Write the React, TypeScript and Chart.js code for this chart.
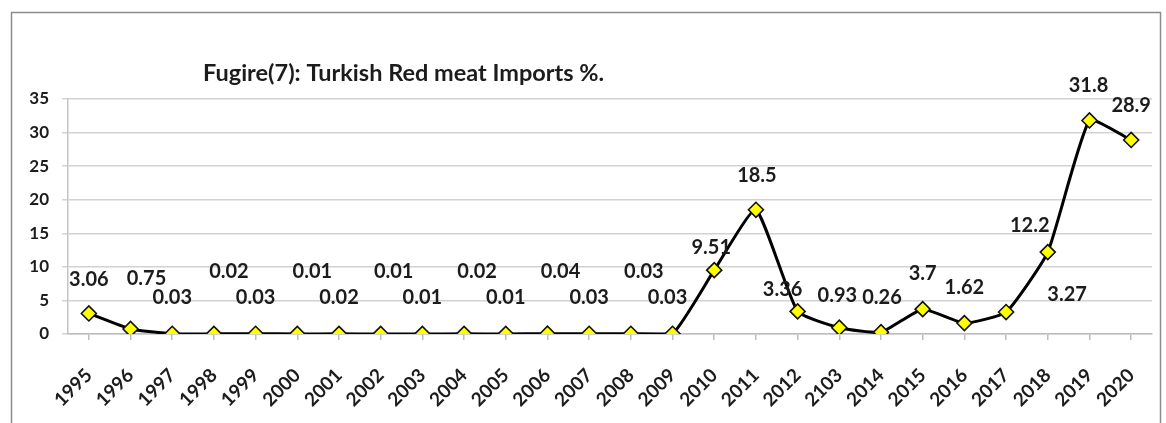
import React, { useEffect, useRef } from 'react';
import { Chart, registerables } from 'chart.js';

Chart.register(...registerables);

const years = [
  '1995', '1996', '1997', '1998', '1999', '2000', '2001', '2002', '2003',
  '2004', '2005', '2006', '2007', '2008', '2009', '2010', '2011', '2012',
  '2103', '2014', '2015', '2016', '2017', '2018', '2019', '2020',
];

const importShare = [
  3.06, 0.75, 0.03, 0.02, 0.03, 0.01, 0.02, 0.01, 0.01, 0.02, 0.01, 0.04, 0.03,
  0.03, 0.03, 9.51, 18.5, 3.36, 0.93, 0.26, 3.7, 1.62, 3.27, 12.2, 31.8, 28.9,
];

const yMin = 0;
const yMax = 35;
const yStep = 5;

const titleText = 'Fugire(7): Turkish Red meat Imports %.';

// where each value label sits relative to its marker: [dx, dy] in px
const labelOffsets: [number, number][] = [
  [0, -34], [16, -50], [0, -36], [15, -62], [0, -36], [15, -62], [0, -36],
  [13, -62], [0, -36], [13, -62], [0, -36], [13, -62], [0, -36], [13, -62],
  [-5, -36], [-3, -23], [1, -34], [-15, -22], [-2, -32], [1, -35], [0, -36],
  [0, -36], [61, -17], [-18, -27], [-1, -35], [0, -34],
];

const FONT = 'Lato, "Open Sans", sans-serif';
const TEXT = '#1c1c1c';

const framePlugin = {
  id: 'frame',
  beforeDraw(chart: Chart) {
    const { ctx, height } = chart;
    ctx.save();
    ctx.fillStyle = '#ffffff';
    ctx.fillRect(0, 0, chart.width, height);
    ctx.strokeStyle = '#8c8c8c';
    ctx.lineWidth = 1.5;
    ctx.strokeRect(11.5, 12.5, 1149, height + 20);
    ctx.restore();
  },
};

const titlePlugin = {
  id: 'figTitle',
  afterDraw(chart: Chart) {
    const { ctx } = chart;
    ctx.save();
    ctx.font = `bold 23.5px ${FONT}`;
    ctx.fillStyle = TEXT;
    ctx.textAlign = 'left';
    ctx.textBaseline = 'middle';
    ctx.fillText(titleText, 203, 73);
    ctx.restore();
  },
};

const valueLabelPlugin = {
  id: 'valueLabels',
  afterDatasetsDraw(chart: Chart) {
    const { ctx } = chart;
    const meta = chart.getDatasetMeta(0);
    ctx.save();
    ctx.font = `bold 20px ${FONT}`;
    ctx.fillStyle = TEXT;
    ctx.textAlign = 'center';
    ctx.textBaseline = 'middle';
    meta.data.forEach((pt: any, i: number) => {
      const [dx, dy] = labelOffsets[i] || [0, -30];
      ctx.fillText(String(importShare[i]), pt.x + dx, pt.y + dy);
    });
    ctx.restore();
  },
};

export default function App() {
  const canvasRef = useRef<HTMLCanvasElement | null>(null);

  useEffect(() => {
    if (!canvasRef.current) return;
    const chart = new Chart(canvasRef.current, {
      type: 'line',
      data: {
        labels: years,
        datasets: [
          {
            label: 'Turkish Red meat Imports %',
            data: importShare,
            borderColor: '#000000',
            borderWidth: 3,
            tension: 0.15,
            pointStyle: 'rectRot',
            pointRadius: 7.5,
            pointHoverRadius: 7.5,
            pointBackgroundColor: '#ffff00',
            pointBorderColor: '#111111',
            pointBorderWidth: 1.6,
          },
        ],
      },
      options: {
        animation: false,
        responsive: true,
        maintainAspectRatio: false,
        layout: { padding: { left: 0, right: 14, top: 99, bottom: 0 } },
        plugins: {
          legend: { display: false },
          title: { display: false },
          tooltip: { enabled: false },
        },
        scales: {
          x: {
            type: 'category',
            offset: true,
            grid: {
              drawOnChartArea: false,
              drawTicks: true,
              tickLength: 6,
              color: '#bdbdbd',
              lineWidth: 1.5,
            },
            border: { display: true, color: '#bdbdbd', width: 1.5 },
            ticks: {
              autoSkip: false,
              minRotation: 45,
              maxRotation: 45,
              padding: 24,
              color: TEXT,
              font: { family: FONT, size: 19, weight: 'bold' },
            },
            afterFit(scale: any) {
              scale.height = 89;
              scale.paddingLeft = 0;
              scale.paddingRight = 0;
            },
          },
          y: {
            min: yMin,
            max: yMax,
            grid: {
              color: '#d2d2d2',
              lineWidth: 1.5,
              tickLength: 6,
            },
            border: { display: true, color: '#c4c4c4', width: 1.5 },
            ticks: {
              stepSize: yStep,
              padding: 13,
              color: TEXT,
              font: { family: FONT, size: 17, weight: 'bold' },
            },
            afterFit(scale: any) {
              scale.width = 68;
            },
          },
        },
      },
      plugins: [framePlugin, titlePlugin, valueLabelPlugin],
    });
    return () => chart.destroy();
  }, []);

  return (
    <div style={{ position: 'absolute', left: 0, top: 0, width: 1166, height: 423 }}>
      <canvas ref={canvasRef} />
    </div>
  );
}
